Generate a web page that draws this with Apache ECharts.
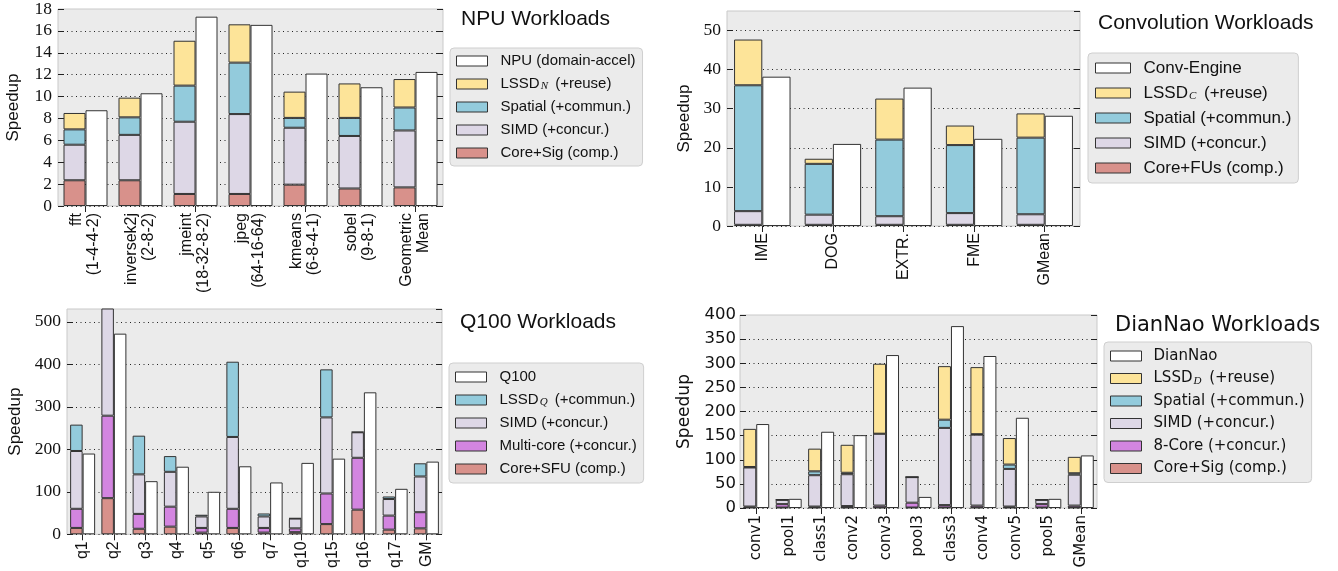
<!DOCTYPE html>
<html>
<head>
<meta charset="utf-8">
<script src="https://cdn.jsdelivr.net/npm/echarts@6/dist/echarts.min.js"></script>
<style>
html,body{margin:0;padding:0;background:#fff;}
#c{width:1338px;height:571px;}
</style>
</head>
<body>
<div id="c"></div>
<script>
// ---------- DATA (cumulative speedups) ----------
const npuCats = ['fft\n(1-4-4-2)', 'inversek2j\n(2-8-2)', 'jmeint\n(18-32-8-2)', 'jpeg\n(64-16-64)', 'kmeans\n(6-8-4-1)', 'sobel\n(9-8-1)', 'Geometric\nMean'];
const npuCore    = [2.35, 2.35, 1.1, 1.1, 1.95, 1.6, 1.7];
const npuSIMD    = [5.6, 6.5, 7.7, 8.4, 7.15, 6.4, 6.9];
const npuSpatial = [7.0, 8.1, 11.0, 13.1, 8.05, 8.05, 9.0];
const npuLSSD    = [8.5, 9.9, 15.1, 16.6, 10.45, 11.2, 11.6];
const npuAccel   = [8.75, 10.3, 17.3, 16.55, 12.1, 10.85, 12.25];
const npuTicks   = {min: 0, max: 18, interval: 2};

const convCats    = ['IME', 'DOG', 'EXTR.', 'FME', 'GMean'];
const convCore    = [0.3, 0.3, 0.3, 0.3, 0.3];
const convSIMD    = [3.8, 2.9, 2.5, 3.3, 3.0];
const convSpatial = [36.0, 15.9, 22.1, 20.7, 22.6];
const convLSSD    = [47.7, 17.2, 32.6, 25.7, 28.8];
const convAccel   = [38.2, 21.0, 35.4, 22.3, 28.2];
const convTicks   = {min: 0, max: 55, interval: 10};

const q100Cats  = ['q1', 'q2', 'q3', 'q4', 'q5', 'q6', 'q7', 'q10', 'q15', 'q16', 'q17', 'GM'];
const q100Core  = [15, 85, 13, 18, 4, 15, 4, 5, 24, 58, 11, 14];
const q100Multi = [60, 279, 48, 65, 15, 60, 15, 14, 96, 180, 44, 52];
const q100SIMD  = [196, 600, 141, 147, 42, 229, 42, 37, 275, 240, 83, 136];
const q100LSSD  = [258, 600, 232, 184, 46, 406, 49, 38, 388, 241, 89, 167];
const q100Accel = [190, 472, 125, 159, 100, 160, 122, 168, 178, 334, 107, 171];
const q100Ticks = {min: 0, max: 530, interval: 100};

const dnCats    = ['conv1', 'pool1', 'class1', 'conv2', 'conv3', 'pool3', 'class3', 'conv4', 'conv5', 'pool5', 'GMean'];
const dnCore    = [1, 1, 1, 1, 1, 1, 1, 1, 1, 1, 1];
const dn8Core   = [3, 8, 3, 4, 5, 11, 6, 5, 3, 8, 5];
const dnSIMD    = [84, 17, 68, 70, 154, 64, 166, 152, 81, 17, 69];
const dnSpatial = [85, 17, 76, 73, 154, 64, 183, 153, 90, 17, 72];
const dnLSSD    = [164, 18, 123, 131, 299, 64, 294, 292, 145, 18, 106];
const dnAccel   = [174, 19, 158, 151, 317, 23, 377, 315, 187, 19, 109];
const dnTicks   = {min: 0, max: 400, interval: 50};

// ---------- STYLE ----------
const COL = {core: '#d8918b', simd: '#ddd7e6', spatial: '#93cbdc', lssd: '#fde499', multi: '#d385e0', white: '#ffffff'};
const SANS = "'Liberation Sans', Arial, sans-serif";
const SERIF = "'Liberation Serif', 'DejaVu Serif', serif";
const DV = "'DejaVu Sans', sans-serif";

function diff(cum, prev) {
  return cum.map((v, i) => Math.max(0, +(v - (prev ? prev[i] : 0)).toFixed(4)));
}

const grids = [
  {left: 58, top: 8, width: 385, height: 198},
  {left: 727, top: 11, width: 353, height: 215},
  {left: 67, top: 309, width: 375, height: 226},
  {left: 740, top: 315, width: 357, height: 193},
].map(g => Object.assign(g, {show: true, backgroundColor: '#ebebeb', borderColor: '#c9c9c9', borderWidth: 1}));

const catsList = [npuCats, convCats, q100Cats, dnCats];
const xLabelFont = [SANS, SANS, SANS, DV];
const xAxes = catsList.map((cats, i) => ({
  type: 'category', gridIndex: i, data: cats,
  axisLine: {show: false}, axisTick: {show: false},
  axisLabel: {rotate: 90, interval: 0, fontSize: i === 3 ? 15 : 16, fontFamily: xLabelFont[i], color: '#111', margin: 7, lineHeight: 17}
}));
// top tick marks (matplotlib-style inner ticks on the top spine)
catsList.forEach((cats, i) => {
  xAxes.push({
    type: 'category', gridIndex: i, position: 'top', data: cats,
    axisLine: {show: false}, axisLabel: {show: false}, splitLine: {show: false},
    axisTick: {show: true, inside: true, alignWithLabel: true, length: 6, lineStyle: {color: '#222', width: 1}}
  });
});

const ticksList = [npuTicks, convTicks, q100Ticks, dnTicks];
const nameGaps = [36, 34, 43, 47];
const yAxes = [];
ticksList.forEach((t, i) => {
  yAxes.push({
    type: 'value', gridIndex: i, min: t.min, max: t.max, interval: t.interval,
    name: 'Speedup', nameLocation: 'middle', nameGap: nameGaps[i], nameRotate: 90,
    nameTextStyle: {fontFamily: i === 3 ? DV : SANS, fontSize: 17, color: '#111'},
    axisLine: {show: false},
    axisTick: {show: true, inside: true, length: 6, lineStyle: {color: '#222'}},
    axisLabel: {fontFamily: i === 3 ? DV : SERIF, fontSize: i === 3 ? 16.5 : 17.5, color: '#111', margin: i === 3 ? 4 : 6, showMaxLabel: t.max % t.interval === 0},
    splitLine: {show: true, showMinLine: true, showMaxLine: false, lineStyle: {type: [1, 3.5], color: '#222', width: 1}}
  });
});
ticksList.forEach((t, i) => {
  yAxes.push({
    type: 'value', gridIndex: i, min: t.min, max: t.max, interval: t.interval, position: 'right',
    axisLine: {show: false}, axisLabel: {show: false}, splitLine: {show: false},
    axisTick: {show: true, inside: true, length: 6, lineStyle: {color: '#222'}}
  });
});

function bar(name, gi, data, color, stack) {
  return {
    type: 'bar', name: name, xAxisIndex: gi, yAxisIndex: gi, data: data, stack: stack,
    barWidth: '40%', barGap: '0%', clip: true,
    itemStyle: {color: color, borderColor: '#333', borderWidth: 1},
    emphasis: {disabled: true}, animation: false
  };
}

const series = [
  // NPU
  bar('Core+Sig (comp.)', 0, diff(npuCore), COL.core, 'n'),
  bar('SIMD (+concur.)', 0, diff(npuSIMD, npuCore), COL.simd, 'n'),
  bar('Spatial (+commun.)', 0, diff(npuSpatial, npuSIMD), COL.spatial, 'n'),
  bar('LSSD_N (+reuse)', 0, diff(npuLSSD, npuSpatial), COL.lssd, 'n'),
  bar('NPU (domain-accel)', 0, npuAccel, COL.white, 'na'),
  // Convolution
  bar('Core+FUs (comp.)', 1, diff(convCore), COL.core, 'c'),
  bar('SIMD (+concur.)', 1, diff(convSIMD, convCore), COL.simd, 'c'),
  bar('Spatial (+commun.)', 1, diff(convSpatial, convSIMD), COL.spatial, 'c'),
  bar('LSSD_C (+reuse)', 1, diff(convLSSD, convSpatial), COL.lssd, 'c'),
  bar('Conv-Engine', 1, convAccel, COL.white, 'ca'),
  // Q100
  bar('Core+SFU (comp.)', 2, diff(q100Core), COL.core, 'q'),
  bar('Multi-core (+concur.)', 2, diff(q100Multi, q100Core), COL.multi, 'q'),
  bar('SIMD (+concur.)', 2, diff(q100SIMD, q100Multi), COL.simd, 'q'),
  bar('LSSD_Q (+commun.)', 2, diff(q100LSSD, q100SIMD), COL.spatial, 'q'),
  bar('Q100', 2, q100Accel, COL.white, 'qa'),
  // DianNao
  bar('Core+Sig (comp.)', 3, diff(dnCore), COL.core, 'd'),
  bar('8-Core (+concur.)', 3, diff(dn8Core, dnCore), COL.multi, 'd'),
  bar('SIMD (+concur.)', 3, diff(dnSIMD, dn8Core), COL.simd, 'd'),
  bar('Spatial (+commun.)', 3, diff(dnSpatial, dnSIMD), COL.spatial, 'd'),
  bar('LSSD_D (+reuse)', 3, diff(dnLSSD, dnSpatial), COL.lssd, 'd'),
  bar('DianNao', 3, dnAccel, COL.white, 'da'),
];

function legend(names, left, top, font, fontSize, lh, gap, iw, pad, textPad) {
  return {
    data: names, orient: 'vertical', left: left, top: top,
    padding: pad, itemGap: gap, itemWidth: iw, itemHeight: 10, icon: 'rect',
    backgroundColor: '#ebebeb', borderColor: '#cfcfcf', borderWidth: 1, borderRadius: 4,
    selectedMode: false,
    itemStyle: {borderColor: '#333', borderWidth: 1},
    formatter: n => n.replace(/_(\w)/, '{sub|$1}'),
    textStyle: {
      fontFamily: font, fontSize: fontSize, color: '#111', lineHeight: lh, padding: [0, 0, 0, textPad],
      rich: {sub: {fontFamily: SERIF, fontStyle: 'italic', fontSize: 11, lineHeight: 11, verticalAlign: 'bottom', padding: [4, 3, 0, 1]}}
    }
  };
}

const legends = [
  legend(['NPU (domain-accel)', 'LSSD_N (+reuse)', 'Spatial (+commun.)', 'SIMD (+concur.)', 'Core+Sig (comp.)'], 450, 48, SANS, 15, 16, 7, 31, [5, 7, 5, 6], 8),
  legend(['Conv-Engine', 'LSSD_C (+reuse)', 'Spatial (+commun.)', 'SIMD (+concur.)', 'Core+FUs (comp.)'], 1088, 53, SANS, 17, 18, 7, 35, [6, 7, 6, 7], 8),
  legend(['Q100', 'LSSD_Q (+commun.)', 'SIMD (+concur.)', 'Multi-core (+concur.)', 'Core+SFU (comp.)'], 449, 363, SANS, 15, 16, 7, 31, [6, 7, 6, 6], 8),
  legend(['DianNao', 'LSSD_D (+reuse)', 'Spatial (+commun.)', 'SIMD (+concur.)', '8-Core (+concur.)', 'Core+Sig (comp.)'], 1104, 342, DV, 15, 16, 6.5, 31, [6, 7, 6, 6], 7),
];

const titles = [
  {text: 'NPU Workloads', left: 461, top: 9, font: SANS},
  {text: 'Convolution Workloads', left: 1098, top: 13, font: SANS},
  {text: 'Q100 Workloads', left: 460, top: 312, font: SANS},
  {text: 'DianNao Workloads', left: 1115, top: 315, font: DV},
].map(t => ({text: t.text, left: t.left, top: t.top, padding: 0,
  textStyle: {fontFamily: t.font, fontSize: 21, fontWeight: 'normal', color: '#111'}}));

const chart = echarts.init(document.getElementById('c'), null, {renderer: 'canvas'});
chart.setOption({
  animation: false,
  backgroundColor: '#ffffff',
  title: titles,
  grid: grids,
  xAxis: xAxes,
  yAxis: yAxes,
  legend: legends,
  series: series
});
</script>
</body>
</html>
